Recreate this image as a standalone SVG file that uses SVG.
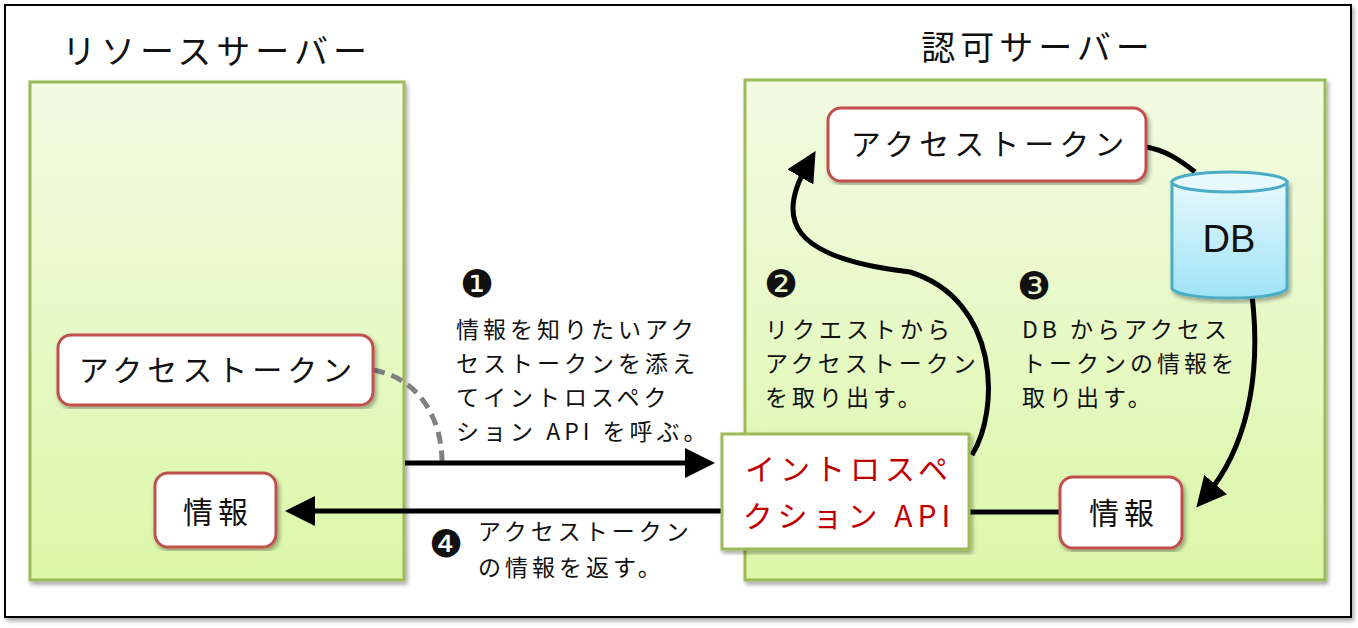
<svg xmlns="http://www.w3.org/2000/svg" width="1358" height="628" viewBox="0 0 1358 628">
<defs>
<linearGradient id="g" x1="0" y1="0" x2="0" y2="1"><stop offset="0" stop-color="#F3FBE3"/><stop offset="1" stop-color="#DBF7A8"/></linearGradient>
<linearGradient id="db" x1="0" y1="0" x2="0" y2="1"><stop offset="0" stop-color="#E6F8FD"/><stop offset="1" stop-color="#9EE3F7"/></linearGradient>
<filter id="sh" x="-5%" y="-5%" width="110%" height="110%"><feDropShadow dx="2" dy="3" stdDeviation="2" flood-opacity="0.35"/></filter>
<marker id="ah" markerWidth="6" markerHeight="6" refX="3" refY="3" orient="auto" markerUnits="strokeWidth" viewBox="0 0 6 6"><path d="M0,0 L6,3 L0,6 Z" fill="#000"/></marker>
<style>
text{font-family:"Noto Sans CJK JP","Noto Sans",sans-serif;fill:#111}
.panel{fill:url(#g);stroke:#9BBB59;stroke-width:3;filter:url(#sh)}
.node{fill:#fff;stroke:#C0504D;stroke-width:3;filter:url(#sh)}
.n{font-size:30px;text-anchor:middle;letter-spacing:5px}
.t{font-size:34px;text-anchor:middle;letter-spacing:5px}
.d{font-size:23px;letter-spacing:4px}
.num{font-family:"DejaVu Serif",serif;font-size:38px}
.c{fill:none;stroke:#000;stroke-width:5}
</style>
</defs>
<rect x="5" y="5" width="1346" height="612" fill="#fff" stroke="#000" stroke-width="2" filter="url(#sh)"/>
<g id="resource-server"><rect class="panel" x="30" y="82" width="374" height="498"/><text x="217" y="64" class="t">リソースサーバー</text></g>
<g id="auth-server"><rect class="panel" x="745" y="80" width="580" height="500"/><text x="1038" y="60" class="t">認可サーバー</text></g>
<g id="connectors">
<path d="M373,370 C420,378 442,420 442,462" fill="none" stroke="#808080" stroke-width="5" stroke-dasharray="12,7"/>
<line class="c" x1="405" y1="463" x2="700" y2="463" marker-end="url(#ah)"/>
<line class="c" x1="722" y1="511" x2="300" y2="511" marker-end="url(#ah)"/>
<path class="c" d="M972,455 C1000,410 1000,300 910,272 C790,258 775,220 808,164" marker-end="url(#ah)"/>
<path class="c" d="M1146,147 C1165,150 1180,160 1195,172"/>
<path class="c" d="M1252,295 C1262,380 1245,450 1206,496" marker-end="url(#ah)"/>
<line class="c" x1="969" y1="512" x2="1060" y2="512"/>
</g>
<g id="rs-token"><rect class="node" x="58" y="335" width="315" height="70" rx="13"/><text class="n" x="218" y="381">アクセストークン</text></g>
<g id="rs-info"><rect class="node" x="155" y="473" width="121" height="74" rx="13"/><text class="n" x="218" y="523">情報</text></g>
<g id="as-token"><rect class="node" x="828" y="108" width="318" height="73" rx="13"/><text class="n" x="990" y="155">アクセストークン</text></g>
<g id="db"><path d="M1172,182 L1172,288 A57,10 0 0 0 1287,288 L1287,182 Z" fill="url(#db)" stroke="#4BACC6" stroke-width="3" filter="url(#sh)"/><ellipse cx="1229.5" cy="182" rx="57.5" ry="10" fill="#E8F9FE" stroke="#4BACC6" stroke-width="3"/><text x="1229" y="252" style="font-size:38px;text-anchor:middle;font-family:'Liberation Sans',sans-serif">DB</text></g>
<g id="as-info"><rect class="node" x="1060" y="477" width="122" height="71" rx="13"/><text class="n" x="1124" y="524">情報</text></g>
<g id="introspection"><rect x="722" y="434" width="247" height="115" fill="#fff" stroke="#9BBB59" stroke-width="3" filter="url(#sh)"/><text class="n" x="849" y="480" style="fill:#C00000">イントロスペ</text><text class="n" x="849" y="527" style="fill:#C00000">クション API</text></g>
<g id="labels">
<text class="num" x="460" y="297">❶</text>
<text class="d" x="456" y="338">情報を知りたいアク</text><text class="d" x="456" y="372">セストークンを添え</text><text class="d" x="456" y="406">てイントロスペク</text><text class="d" x="456" y="440">ション API を呼ぶ。</text>
<text class="num" x="764" y="297">❷</text>
<text class="d" x="765" y="338">リクエストから</text><text class="d" x="765" y="372">アクセストークン</text><text class="d" x="765" y="406">を取り出す。</text>
<text class="num" x="1017" y="299">❸</text>
<text class="d" x="1022" y="338">DB からアクセス</text><text class="d" x="1022" y="372">トークンの情報を</text><text class="d" x="1022" y="406">取り出す。</text>
<text class="num" x="429" y="557">❹</text>
<text class="d" x="478" y="540">アクセストークン</text><text class="d" x="478" y="576">の情報を返す。</text>
</g>
</svg>
